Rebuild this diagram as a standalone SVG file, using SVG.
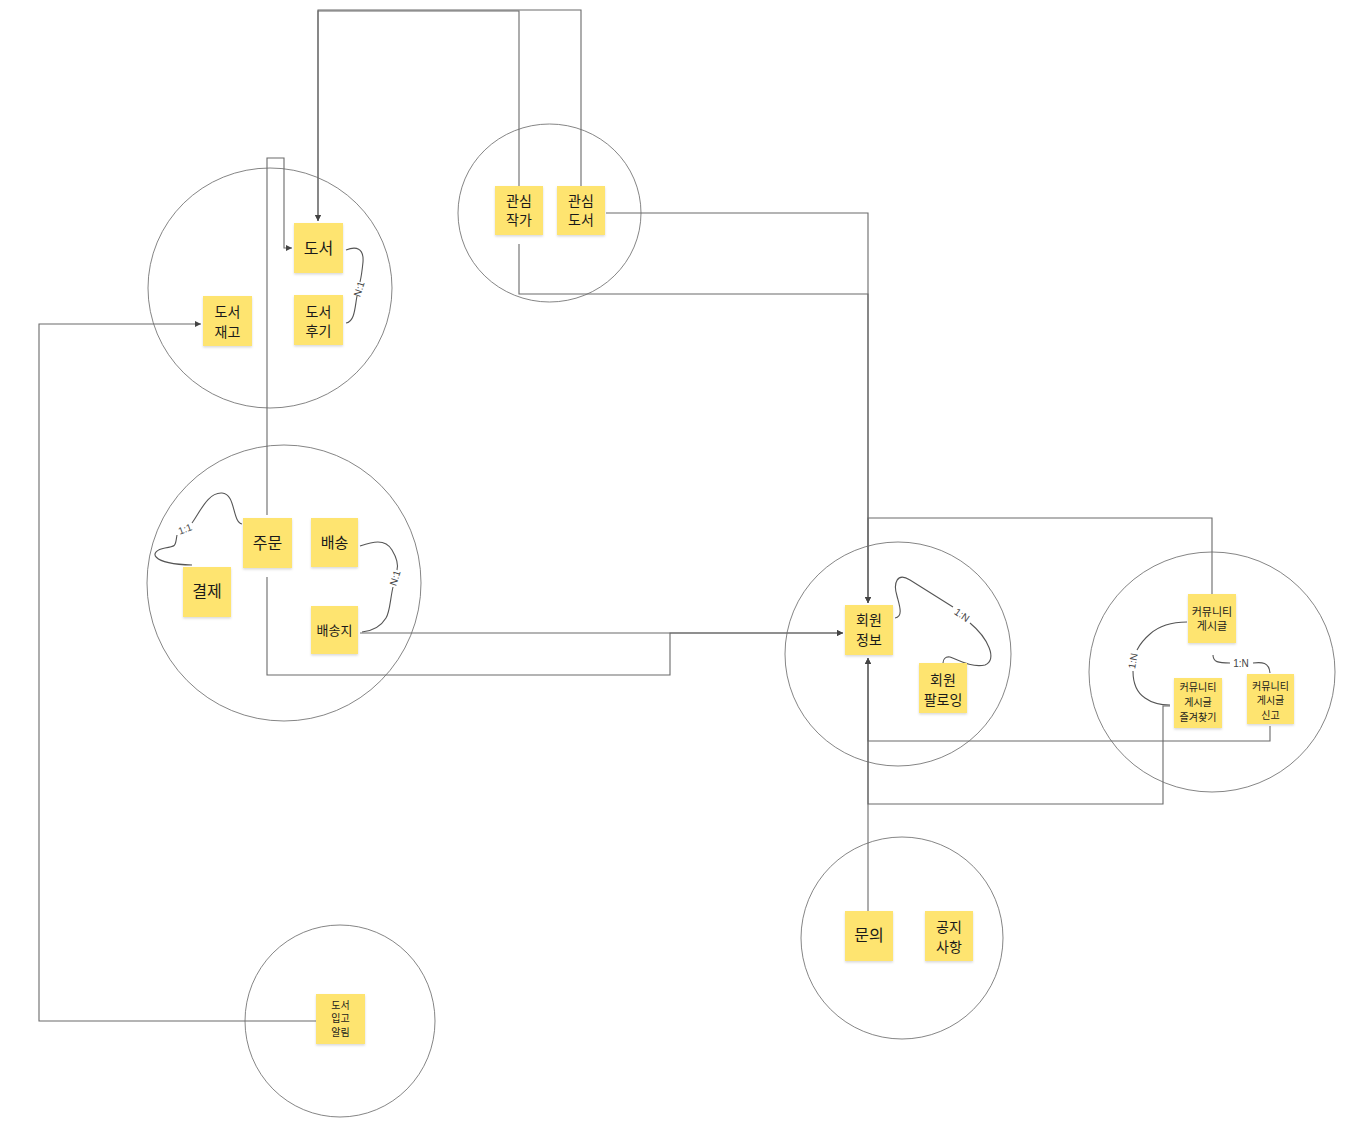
<svg xmlns="http://www.w3.org/2000/svg" width="1365" height="1144" viewBox="0 0 1365 1144">
<style>
.bg{fill:#ffffff}
.grp{fill:none;stroke:#666;stroke-width:0.8}
.note{fill:#FEE46F;filter:url(#sh)}
.t{font-family:"Noto Sans CJK KR","Noto Sans",sans-serif;fill:#1a1a1a;text-anchor:middle}
.c{fill:none;stroke:#6a6a6a;stroke-width:1.1}
.rel{fill:none;stroke:#555;stroke-width:1.1}
.lbl{font-family:"Liberation Sans","Noto Sans",sans-serif;fill:#444;text-anchor:middle;font-size:10px}
</style>
<defs>
<filter id="sh" x="-20%" y="-20%" width="140%" height="150%">
<feDropShadow dx="0" dy="1.5" stdDeviation="1.2" flood-color="#000" flood-opacity="0.15"/>
</filter>
<marker id="arr" viewBox="0 0 6 6" refX="6" refY="3" markerWidth="6" markerHeight="6" markerUnits="userSpaceOnUse" orient="auto">
<path d="M0,0 L6,3 L0,6 z" fill="#444"/>
</marker>
</defs>
<rect class="bg" x="0" y="0" width="1365" height="1144"/>

<g id="groups">
<ellipse class="grp" cx="270" cy="288" rx="122" ry="120"/>
<ellipse class="grp" cx="549.5" cy="213" rx="91.5" ry="89"/>
<ellipse class="grp" cx="284" cy="583" rx="137" ry="138"/>
<ellipse class="grp" cx="898" cy="654" rx="113" ry="112"/>
<ellipse class="grp" cx="1212" cy="672" rx="123" ry="120"/>
<ellipse class="grp" cx="340" cy="1021" rx="95" ry="96"/>
<ellipse class="grp" cx="902" cy="938" rx="101" ry="101"/>
</g>

<g id="connectors">
<path class="c" d="M519,186 V11 H318 V221" marker-end="url(#arr)"/>
<path class="c" d="M581,186 V10 H318 V221" marker-end="url(#arr)"/>
<path class="c" d="M606,213 H868 V603" marker-end="url(#arr)"/>
<path class="c" d="M519,244 V294 H868 V603" marker-end="url(#arr)"/>
<path class="c" d="M267,515 V158 H284 V248 H292" marker-end="url(#arr)"/>
<path class="c" d="M267,577 V675 H670 V633 H843" marker-end="url(#arr)"/>
<path class="c" d="M360,633 H843" marker-end="url(#arr)"/>
<path class="c" d="M316,1021 H39 V324 H201" marker-end="url(#arr)"/>
<path class="c" d="M1212,594 V518 H868 V603" marker-end="url(#arr)"/>
<path class="c" d="M1270,726 V741 H868 V658" marker-end="url(#arr)"/>
<path class="c" d="M1170,706 H1163 V804 H868 V658" marker-end="url(#arr)"/>
<path class="c" d="M868,911 V658" marker-end="url(#arr)"/>

<path class="rel" d="M346,250 C356,246 364,248 363,262 C362,272 361,278 360,282"/>
<path class="rel" d="M357,296 C355,306 355,322 346,323"/>
<text class="lbl" transform="translate(359,289) rotate(-72)" y="3.5">N:1</text>

<path class="rel" d="M242,524 C232,522 236,494 222,493 C208,492 200,512 192,523"/>
<path class="rel" d="M177,535 C175,546 177,546 165,548 C148,551 150,564 192,565"/>
<text class="lbl" transform="translate(185,529) rotate(-20)" y="3.5">1:1</text>

<path class="rel" d="M360,546 C372,542 385,538 392,550 C398,560 398,566 397,570"/>
<path class="rel" d="M393,587 C390,600 390,612 386,618 C380,628 372,631 362,632"/>
<text class="lbl" transform="translate(395,578) rotate(-72)" y="3.5">N:1</text>

<path class="rel" d="M895,618 C904,617 899,604 897,596 C893,583 897,572 910,580 L953,607"/>
<path class="rel" d="M970,623 C988,638 998,660 985,665 C972,668 958,660 950,657 C945,656 943,660 943,663"/>
<text class="lbl" transform="translate(962,615) rotate(35)" y="3.5">1:N</text>

<path class="rel" d="M1187,622 C1172,622 1160,625 1150,634 C1143,640 1139,646 1137,650"/>
<path class="rel" d="M1133,671 C1133,682 1136,692 1145,698 C1152,703 1160,705 1170,705"/>
<text class="lbl" transform="translate(1133,661) rotate(-80)" y="3.5" font-size="11">1:N</text>

<path class="rel" d="M1213,655 C1213,662 1218,663 1230,663"/>
<path class="rel" d="M1253,663 C1262,662 1269,662 1270,673"/>
<text class="lbl" x="1241" y="667" font-size="11">1:N</text>
</g>

<g id="n-book">
<rect class="note" x="294" y="223" width="49" height="50"/>
<text class="t" x="318.5" y="254" font-size="16">도서</text>
</g>
<g id="n-review">
<rect class="note" x="294" y="295" width="49" height="50"/>
<text class="t" x="318.5" y="316.5" font-size="14">도서</text>
<text class="t" x="318.5" y="336" font-size="14">후기</text>
</g>
<g id="n-stock">
<rect class="note" x="203" y="296" width="49" height="50"/>
<text class="t" x="227.5" y="316.5" font-size="14">도서</text>
<text class="t" x="227.5" y="336.5" font-size="14">재고</text>
</g>
<g id="n-fav-author">
<rect class="note" x="495" y="186" width="48" height="49"/>
<text class="t" x="519" y="206" font-size="14">관심</text>
<text class="t" x="519" y="225" font-size="14">작가</text>
</g>
<g id="n-fav-book">
<rect class="note" x="557" y="186" width="48" height="49"/>
<text class="t" x="581" y="206" font-size="14">관심</text>
<text class="t" x="581" y="225" font-size="14">도서</text>
</g>
<g id="n-order">
<rect class="note" x="243" y="518" width="49" height="50"/>
<text class="t" x="267.5" y="549" font-size="16">주문</text>
</g>
<g id="n-delivery">
<rect class="note" x="311" y="518" width="47" height="49"/>
<text class="t" x="334.5" y="547.5" font-size="15">배송</text>
</g>
<g id="n-payment">
<rect class="note" x="183" y="567" width="48" height="50"/>
<text class="t" x="207" y="597" font-size="16">결제</text>
</g>
<g id="n-address">
<rect class="note" x="311" y="606" width="47" height="48"/>
<text class="t" x="334.5" y="635" font-size="13">배송지</text>
</g>
<g id="n-member">
<rect class="note" x="845" y="605" width="48" height="50"/>
<text class="t" x="869" y="625" font-size="14">회원</text>
<text class="t" x="869" y="645" font-size="14">정보</text>
</g>
<g id="n-follow">
<rect class="note" x="919" y="663" width="48" height="50"/>
<text class="t" x="943" y="685" font-size="14">회원</text>
<text class="t" x="943" y="705" font-size="14">팔로잉</text>
</g>
<g id="n-post">
<rect class="note" x="1188" y="594" width="48" height="49"/>
<text class="t" x="1212" y="615.5" font-size="11">커뮤니티</text>
<text class="t" x="1212" y="630" font-size="11">게시글</text>
</g>
<g id="n-post-fav">
<rect class="note" x="1174" y="678" width="48" height="50"/>
<text class="t" x="1198" y="690.5" font-size="10">커뮤니티</text>
<text class="t" x="1198" y="706" font-size="10">게시글</text>
<text class="t" x="1198" y="720.5" font-size="10">즐겨찾기</text>
</g>
<g id="n-post-report">
<rect class="note" x="1247" y="674" width="47" height="50"/>
<text class="t" x="1270.5" y="690" font-size="10">커뮤니티</text>
<text class="t" x="1270.5" y="704" font-size="10">게시글</text>
<text class="t" x="1270.5" y="719" font-size="10">신고</text>
</g>
<g id="n-arrival">
<rect class="note" x="316" y="994" width="49" height="50"/>
<text class="t" x="340.5" y="1008.5" font-size="10">도서</text>
<text class="t" x="340.5" y="1022" font-size="10">입고</text>
<text class="t" x="340.5" y="1035.5" font-size="10">알림</text>
</g>
<g id="n-inquiry">
<rect class="note" x="845" y="911" width="48" height="50"/>
<text class="t" x="869" y="941" font-size="16">문의</text>
</g>
<g id="n-notice">
<rect class="note" x="925" y="911" width="48" height="50"/>
<text class="t" x="949" y="931.5" font-size="14">공지</text>
<text class="t" x="949" y="951.5" font-size="14">사항</text>
</g>
</svg>
